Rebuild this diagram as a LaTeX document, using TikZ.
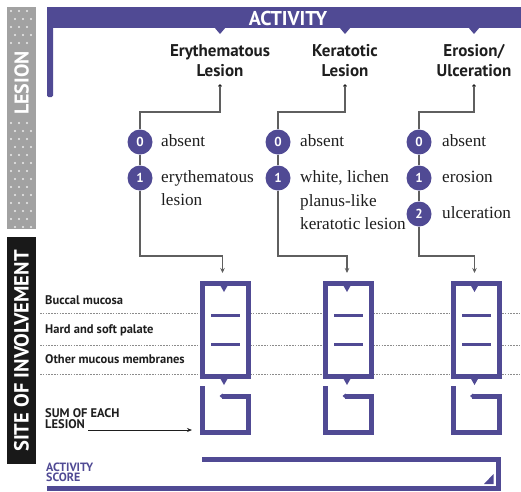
\documentclass[tikz,border=0pt]{standalone}
\usepackage{fontspec}
\setmainfont{Liberation Serif}
\newfontfamily\sansf{PT Sans}
\usetikzlibrary{arrows.meta}
\definecolor{pur}{RGB}{80,74,148}
\definecolor{lgray}{RGB}{162,162,162}
\definecolor{connc}{RGB}{95,95,95}
\definecolor{txtc}{RGB}{30,30,30}
\begin{document}
\begin{tikzpicture}[x=1pt,y=-1pt,
  conn/.style={draw=connc,line width=1.3pt},
  arr/.style={conn,-{Stealth[length=5pt,width=4.5pt]}},
  numc/.style={circle,fill=pur,minimum size=25pt,inner sep=0pt,text=white,font=\sansf\bfseries\fontsize{13}{13}\selectfont},
  opt/.style={anchor=west,inner sep=0pt,text=txtc,font=\fontsize{17.2}{17.2}\selectfont,text height=11pt,text depth=3pt},
  hdr/.style={align=center,inner sep=0pt,text=txtc,font=\sansf\bfseries\fontsize{17}{20}\selectfont},
  site/.style={anchor=west,inner sep=0pt,text=txtc,font=\sansf\bfseries\fontsize{12.5}{12.5}\selectfont},
  boxst/.style={draw=pur,fill=white,line width=5pt,minimum width=46pt,minimum height=93pt,inner sep=0pt},
  purl/.style={draw=pur,line width=5pt},
  dotl/.style={draw=black!45,line width=0.7pt,dash pattern=on 1.6pt off 1.2pt},
  sidelbl/.style={rotate=90,text=white,inner sep=0pt,font=\sansf\bfseries\fontsize{20}{20}\selectfont},
  scorelbl/.style={anchor=west,inner sep=0pt,text=pur,font=\sansf\bfseries\fontsize{12}{12}\selectfont,text height=8.4pt,text depth=0pt},
]
\useasboundingbox (0,0) rectangle (521,491);

% left side bars
\fill[lgray] (7,7) rectangle (36,229);
\foreach \r in {0,...,4}{\foreach \c in {0,1,2}{
  \fill[white!80!lgray] ({11+8*\c+4*mod(\r,2)},{11+8*\r}) circle (1.1);}}
\foreach \r in {14,...,27}{\foreach \c in {0,1,2}{
  \fill[white!80!lgray] ({11+8*\c+4*mod(\r,2)},{11+8*\r}) circle (1.1);}}
\node[sidelbl] (lesl) at (21.5,83) {LESION};
\fill[black!90] (7,237) rectangle (36,464);
\node[sidelbl,font=\sansf\bfseries\fontsize{20.5}{20.5}\selectfont] (sitel) at (21.5,351) {SITE OF INVOLVEMENT};

% activity banner
\fill[pur] (47,7) rectangle (521,28);
\fill[pur,rounded corners=1.5pt] (47,20) -- (47,97) -- (53,97) -- (53,20) -- cycle;
\node[text=white,inner sep=0pt,font=\sansf\bfseries\fontsize{20}{20}\selectfont] (act) at (288,18) {ACTIVITY};
\foreach \x in {220,345,474}{\fill[pur] (\x-6,27) -- (\x+6,27) -- (\x,34) -- cycle;}

% headers
\node[hdr] (h1) at (220,61) {Erythematous\\Lesion};
\node[hdr] (h2) at (345,61) {Keratotic\\Lesion};
\node[hdr] (h3) at (474,61) {Erosion/\\Ulceration};
\coordinate (d1) at (220,86);
\coordinate (d2) at (345,86);
\coordinate (d3) at (474,86);
\foreach \d in {d1,d2,d3}{\fill[txtc] (\d) circle (1.9);}

% dotted site lines
\draw[dotl] (40,313) -- (521,313);
\draw[dotl] (40,345) -- (521,345);
\draw[dotl] (40,374) -- (521,374);

% site labels
\node[site] (s1) at (45,300) {Buccal mucosa};
\node[site] (s2) at (45,330) {Hard and soft palate};
\node[site] (s3) at (45,359) {Other mucous membranes};
\node[site] (sum1) at (45,413) {SUM OF EACH};
\node[site] (sum2) at (45,424) {LESION};

% score circles
\node[numc] (c10) at (140,142) {0};
\node[numc] (c11) at (140,178) {1};
\node[numc] (c20) at (278,142) {0};
\node[numc] (c21) at (278,178) {1};
\node[numc] (c30) at (419,142) {0};
\node[numc] (c31) at (419,178) {1};
\node[numc] (c32) at (419,214) {2};

\node[opt] (t10) at (161,142) {absent};
\node[opt] (t11) at (161,178) {erythematous};
\node[opt] (t11b) at (161,201) {lesion};
\node[opt] (t20) at (300,142) {absent};
\node[opt] (t21) at (300,178) {white, lichen};
\node[opt] (t21b) at (300,202) {planus-like};
\node[opt] (t21c) at (300,225) {keratotic lesion};
\node[opt] (t30) at (442,142) {absent};
\node[opt] (t31) at (442,178) {erosion};
\node[opt] (t32) at (442,214) {ulceration};

% boxes
\node[boxst] (b1) at (225.5,330) {};
\node[boxst] (b2) at (348.5,330) {};
\node[boxst] (b3) at (476,330) {};
\foreach \cx in {225.5,348.5,476}{
  \fill[pur] (\cx-5.5,285) -- (\cx+2.5,285) -- (\cx-1.5,292) -- cycle;
  \fill[pur] (\cx-5.5,378) -- (\cx+2.5,378) -- (\cx-1.5,385) -- cycle;
  \fill[pur] (\cx-14.5,313.5) rectangle (\cx+14.5,316.5);
  \fill[pur] (\cx-14.5,342.5) rectangle (\cx+14.5,345.5);
  \draw[purl,line join=miter] (\cx-4,396) -- (\cx+23,396) -- (\cx+23,432.5) -- (\cx-23,432.5) -- (\cx-23,386);
  \fill[pur] (\cx-6,396) -- (\cx-3,393.5) -- (\cx-3,398.5) -- cycle;
}

% connectors
\draw[conn] (d1) -- ++(0,26) -| (c10.north);
\draw[conn] (d2) -- ++(0,26) -| (c20.north);
\draw[conn] (d3) -- ++(0,26) -| (c30.north);
\draw[conn] (c10) -- (c11);
\draw[conn] (c20) -- (c21);
\draw[conn] (c30) -- (c31);
\draw[conn] (c31) -- (c32);
\draw[arr] (c11.south) |- (222.5,256) -- ([xshift=-3pt,yshift=8pt]b1.north);
\draw[arr] (c21.south) |- (347,256) -- ([xshift=-1.5pt,yshift=8pt]b2.north);
\draw[arr] (c32.south) |- (474.5,256) -- ([xshift=-1.5pt,yshift=8pt]b3.north);
\coordinate (sa) at (192,430);
\draw[draw=txtc,line width=0.8pt,-{Stealth[length=5pt,width=4pt]}] ([xshift=3pt]sum2.east |- sa) -- (sa);

% activity score bar
\draw[purl,line join=miter] (202,459.5) -- (498.5,459.5) -- (498.5,488) -- (47,488);
\fill[pur] (493.5,474) -- (493.5,484) -- (484,484) -- cycle;
\node[scorelbl] (asc1) at (46,467) {ACTIVITY};
\node[scorelbl] (asc2) at (46,477.5) {SCORE};
\end{tikzpicture}
\end{document}
